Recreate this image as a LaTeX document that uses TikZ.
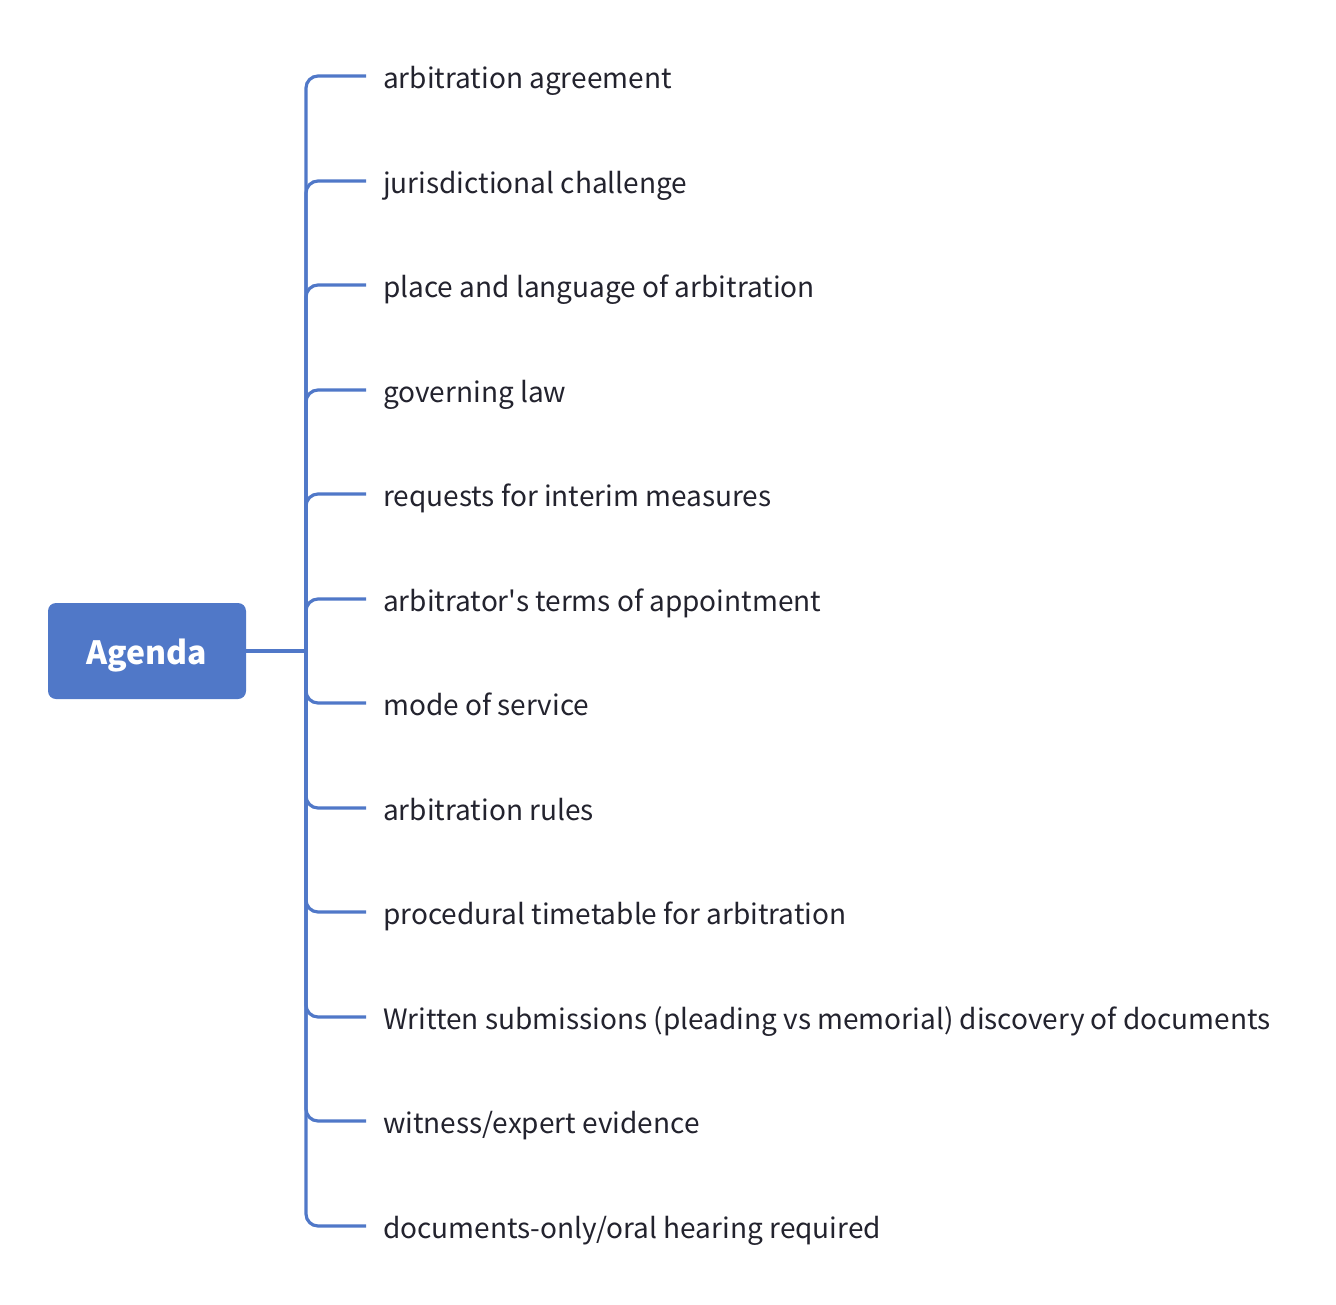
\documentclass[tikz,border=0pt]{standalone}
\usepackage{fontspec}
\setmainfont{Noto Sans CJK SC}[Ligatures=TeXOff]
\usetikzlibrary{positioning}
\definecolor{agendablue}{HTML}{5078C8}
\definecolor{leaftext}{HTML}{23232E}
\tikzset{
	root/.style={fill=agendablue, rounded corners=8pt, minimum width=198pt, minimum height=96pt, text height=26pt, text depth=0pt, text=white, font=\fontsize{32}{38}\selectfont\bfseries},
	leaf/.style={anchor=west, inner xsep=17pt, inner ysep=0pt, text height=24pt, text depth=0pt, text=leaftext, font=\fontsize{28}{33}\selectfont},
	link/.style={line width=3.2pt, draw=agendablue},
	branch/.style={link, rounded corners=12pt}
}
\begin{document}
\begin{tikzpicture}[x=1pt, y=-1pt]
		%%%%% START %%%%%
		\useasboundingbox (0, 0) rectangle (1336, 1304);
		
		\node[root] (agenda) at (147, 651) {Agenda};
		\coordinate (hub) at (306, 651);
		
		\node[leaf] (l1) at (366, 76) {arbitration agreement};
		\node[leaf] (l2) at (366, 181) {jurisdictional challenge};
		\node[leaf] (l3) at (366, 285) {place and language of arbitration};
		\node[leaf] (l4) at (366, 390) {governing law};
		\node[leaf] (l5) at (366, 494) {requests for interim measures};
		\node[leaf] (l6) at (366, 599) {arbitrator's terms of appointment};
		\node[leaf] (l7) at (366, 703) {mode of service};
		\node[leaf] (l8) at (366, 808) {arbitration rules};
		\node[leaf] (l9) at (366, 912) {procedural timetable for arbitration};
		\node[leaf] (l10) at (366, 1017) {Written submissions (pleading vs memorial) discovery of documents};
		\node[leaf] (l11) at (366, 1121) {witness/expert evidence};
		\node[leaf] (l12) at (366, 1226) {documents-only/oral hearing required};
		
		\draw[link] (agenda.east) -- (hub);
		
		\draw[branch] (hub) |- (l1.west);
		\draw[branch] (hub) |- (l2.west);
		\draw[branch] (hub) |- (l3.west);
		\draw[branch] (hub) |- (l4.west);
		\draw[branch] (hub) |- (l5.west);
		\draw[branch] (hub) |- (l6.west);
		\draw[branch] (hub) |- (l7.west);
		\draw[branch] (hub) |- (l8.west);
		\draw[branch] (hub) |- (l9.west);
		\draw[branch] (hub) |- (l10.west);
		\draw[branch] (hub) |- (l11.west);
		\draw[branch] (hub) |- (l12.west);
		
		%%%%% END %%%%%
	\end{tikzpicture}
\end{document}
